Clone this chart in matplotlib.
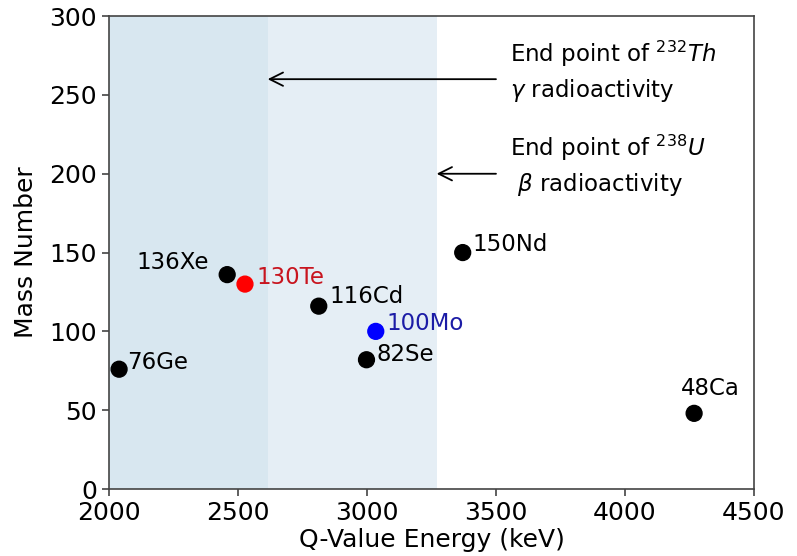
import matplotlib
matplotlib.use("Agg")
import matplotlib.pyplot as plt

isotopes = ["76Ge", "136Xe", "130Te", "116Cd", "82Se", "100Mo", "150Nd", "48Ca"]
q_values = [2039, 2458, 2527, 2813, 2998, 3034, 3371, 4268]
mass_numbers = [76, 136, 130, 116, 82, 100, 150, 48]
dot_colors = ["black", "black", "red", "black", "black", "blue", "black", "black"]
text_colors = ["black", "black", "#c8141e", "black", "black", "#1c1ca6", "black", "black"]
# label offsets in points (dx, dy) and horizontal alignment
offsets = [(6, 5), (-13, 9), (8, 5), (8, 7), (7, 4), (8, 6), (7, 6), (12, 18)]
aligns = ["left", "right", "left", "left", "left", "left", "left", "center"]

th_endpoint = 2615
u_endpoint = 3270

fig = plt.figure(figsize=(7.97, 5.56), dpi=100)
ax = fig.add_axes([0.1368, 0.1205, 0.8092, 0.8505])

ax.axvspan(2000, th_endpoint, color="#d8e7f0", lw=0, zorder=0)
ax.axvspan(th_endpoint, u_endpoint, color="#e5eef5", lw=0, zorder=0)

ax.scatter(q_values, mass_numbers, s=130, c=dot_colors, zorder=3)
for name, x, y, col, (dx, dy), ha in zip(isotopes, q_values, mass_numbers,
                                          text_colors, offsets, aligns):
    ax.annotate(name, (x, y), xytext=(dx, dy), textcoords="offset points",
                ha=ha, va="center", fontsize=16.5, color=col)

ax.annotate("", xy=(th_endpoint, 260), xytext=(3500, 260),
            arrowprops=dict(arrowstyle="->", color="black", lw=1.3,
                            mutation_scale=24, shrinkA=0, shrinkB=0))
ax.annotate("", xy=(u_endpoint, 200), xytext=(3500, 200),
            arrowprops=dict(arrowstyle="->", color="black", lw=1.3,
                            mutation_scale=24, shrinkA=0, shrinkB=0))
ax.text(3555, 265, "End point of $^{232}Th$\n$\\gamma$ radioactivity",
        ha="left", va="center", fontsize=16.5, linespacing=1.4)
ax.text(3555, 205, "End point of $^{238}U$\n $\\beta$ radioactivity",
        ha="left", va="center", fontsize=16.5, linespacing=1.4)

ax.set_xlim(2000, 4500)
ax.set_ylim(0, 300)
ax.set_xticks([2000, 2500, 3000, 3500, 4000, 4500])
ax.set_yticks([0, 50, 100, 150, 200, 250, 300])
ax.tick_params(labelsize=18, length=5, width=1.2, color="#444444")
for sp in ax.spines.values():
    sp.set_color("#444444")
    sp.set_linewidth(1.2)
ax.set_xlabel("Q-Value Energy (keV)", fontsize=18, labelpad=2)
ax.set_ylabel("Mass Number", fontsize=18, labelpad=8)

fig.savefig("out.png", dpi=100)
